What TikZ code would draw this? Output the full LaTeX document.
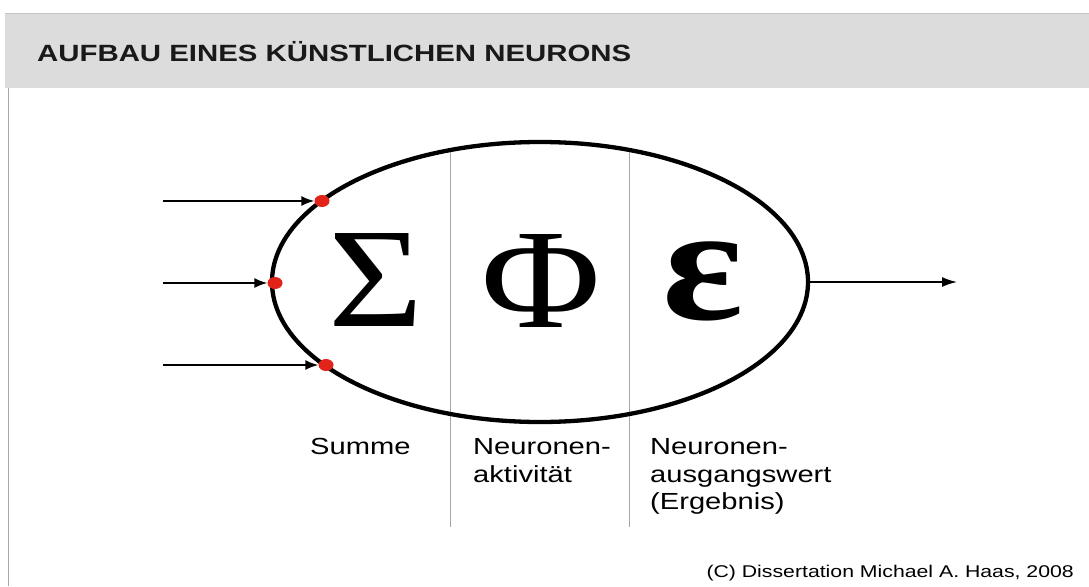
\documentclass[tikz,border=0pt]{standalone}
\usepackage{fontspec}
\setmainfont{Liberation Sans}
\newfontfamily\labfont[FakeStretch=1.25]{Liberation Sans}
\newfontfamily\symfont[FakeStretch=1.15]{Liberation Serif}
\usetikzlibrary{shapes.geometric,arrows.meta}
\definecolor{bandgray}{HTML}{DCDCDC}
\definecolor{bandedge}{HTML}{C4C4C4}
\definecolor{divgray}{HTML}{A6A6A6}
\definecolor{dotred}{HTML}{E2231A}
\tikzset{
  inarrow/.style={line width=1.6pt,-{Latex[length=13pt,width=10pt]}},
  outarrow/.style={line width=1.6pt,-{Latex[length=15pt,width=10pt]}},
  dot/.style={ellipse,fill=dotred,inner sep=0pt,minimum width=15pt,minimum height=12pt},
  divider/.style={divgray,line width=0.9pt},
  label/.style={inner sep=0pt,anchor=north west,align=left,font=\labfont\fontsize{23.3}{27.5}\selectfont},
  sym/.style={inner sep=0pt,anchor=center}
}
\begin{document}
\begin{tikzpicture}[x=1pt,y=-1pt]
\useasboundingbox (0,0) rectangle (1089,586);
\fill[white] (0,0) rectangle (1089,586);
% header band
\fill[bandgray] (5,13) rectangle (1089,88);
\draw[bandedge,line width=0.8pt] (5,13.4) -- (1089,13.4);
\draw[divgray,line width=1pt] (8.5,88) -- (8.5,586);
\node[inner sep=0pt,anchor=base west,font=\labfont\bfseries\fontsize{23.5}{28}\selectfont,text=black!90] (title) at (37,62) {AUFBAU EINES KÜNSTLICHEN NEURONS};
% dividers
\coordinate (d1t) at (450,150);
\coordinate (d1b) at (450,527);
\coordinate (d2t) at (629,150);
\coordinate (d2b) at (629,527);
\draw[divider] (d1t) -- (d1b);
\draw[divider] (d2t) -- (d2b);
% neuron body
\node[ellipse,draw,line width=4.3pt,inner sep=0pt,minimum width=536pt,minimum height=280pt] (neuron) at (540,282) {};
% symbols
\node[sym,font=\symfont\fontsize{142}{142}\selectfont] (sigma) at (376,280) {Σ};
\node[sym,font=\symfont\fontsize{142}{142}\selectfont] (phi) at (541,281) {Φ};
\node[sym,font=\symfont\bfseries\fontsize{165}{165}\selectfont] (eps) at (703,281) {ε};
% dots and inputs
\node[dot] (p1) at (322,201) {};
\node[dot] (p2) at (275,283) {};
\node[dot] (p3) at (326,365) {};
\coordinate (i1) at (163,201);
\coordinate (i2) at (163,283);
\coordinate (i3) at (163,365);
\draw[inarrow] (i1) -- (p1);
\draw[inarrow] (i2) -- (p2);
\draw[inarrow] (i3) -- (p3);
% output
\coordinate (o) at (957,282);
\draw[outarrow] (neuron.east) -- (o);
% labels
\node[label] (l1) at (310,438.3) {Summe};
\node[label] (l2) at (473,438.3) {Neuronen-\\aktivität};
\node[label] (l3) at (650,438.3) {Neuronen-\\ausgangswert\\(Ergebnis)};
\node[inner sep=0pt,anchor=base east,font=\labfont\fontsize{17}{20}\selectfont] (copy) at (1074,577) {(C) Dissertation Michael A. Haas, 2008};
\end{tikzpicture}
\end{document}
